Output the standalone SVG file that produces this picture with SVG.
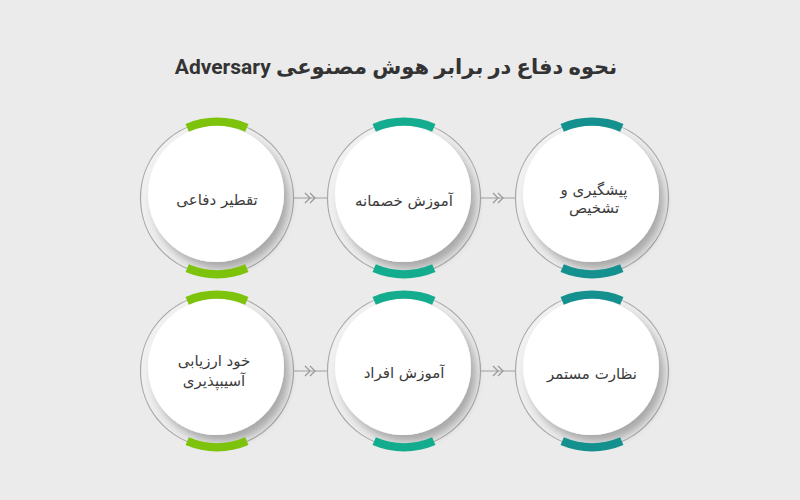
<svg xmlns="http://www.w3.org/2000/svg" width="800" height="500" viewBox="0 0 800 500">
<defs>
<filter id="sh" x="-30%" y="-30%" width="160%" height="160%">
<feGaussianBlur in="SourceAlpha" stdDeviation="4"/>
<feOffset dx="5" dy="7" result="b"/>
<feComponentTransfer><feFuncA type="linear" slope="0.28"/></feComponentTransfer>
<feMerge><feMergeNode/><feMergeNode in="SourceGraphic"/></feMerge>
</filter>
<linearGradient id="ring" x1="0" y1="0" x2="1" y2="1">
<stop offset="0" stop-color="#f3f3f3"/>
<stop offset="1" stop-color="#e6e6e6"/>
</linearGradient>
<g id="chev">
<path d="M-5,-5 L0,0 L-5,5 M0,-5 L5,0 L0,5" fill="none" stroke="#9a9a9a" stroke-width="1.3"/>
</g>
</defs>
<style>
.outer{fill:url(#ring);stroke:#a8a8a8;stroke-width:1.2}
.inner{fill:#ffffff;filter:url(#sh)}
.arc{fill:none;stroke-width:8.5}
.g{stroke:#7dc30c}
.tg{stroke:#14ac8e}
.t{stroke:#14918f}
.lbl{font-family:"DejaVu Sans","Noto Sans",sans-serif;font-size:15px;fill:#3c3c3c;text-anchor:middle;direction:rtl}
.conn{stroke:#a0a0a0;stroke-width:1.2;fill:none}
.title{font-family:Roboto,"DejaVu Sans",sans-serif;font-size:21px;font-weight:bold;fill:#333;text-anchor:middle;direction:rtl}
</style>
<rect width="800" height="500" fill="#ebebeb"/>
<text class="title" x="396" y="74" direction="rtl">نحوه دفاع در برابر هوش مصنوعی Adversary</text>

<g id="connectors">
<line class="conn" x1="294" y1="198" x2="328" y2="198"/>
<use href="#chev" x="310" y="198"/>
<line class="conn" x1="481" y1="198" x2="516" y2="198"/>
<use href="#chev" x="498" y="198"/>
<line class="conn" x1="294" y1="371" x2="328" y2="371"/>
<use href="#chev" x="310" y="371"/>
<line class="conn" x1="481" y1="371" x2="516" y2="371"/>
<use href="#chev" x="498" y="371"/>
</g>

<g id="node1" transform="translate(217,198)">
<circle class="outer" r="76.5"/>
<circle class="inner" cx="-1" cy="-4" r="68"/>
<path class="arc g" d="M-29.8,-70.2 A76.3,76.3 0 0 1 29.8,-70.2"/>
<path class="arc g" d="M-29.8,70.2 A76.3,76.3 0 0 0 29.8,70.2"/>
<text class="lbl" x="0" y="7">تقطیر دفاعی</text>
</g>
<g id="node2" transform="translate(404,198)">
<circle class="outer" r="76.5"/>
<circle class="inner" cx="-1" cy="-4" r="68"/>
<path class="arc tg" d="M-29.8,-70.2 A76.3,76.3 0 0 1 29.8,-70.2"/>
<path class="arc tg" d="M-29.8,70.2 A76.3,76.3 0 0 0 29.8,70.2"/>
<text class="lbl" x="0" y="8">آموزش خصمانه</text>
</g>
<g id="node3" transform="translate(592,198)">
<circle class="outer" r="76.5"/>
<circle class="inner" cx="-1" cy="-4" r="68"/>
<path class="arc t" d="M-29.8,-70.2 A76.3,76.3 0 0 1 29.8,-70.2"/>
<path class="arc t" d="M-29.8,70.2 A76.3,76.3 0 0 0 29.8,70.2"/>
<text class="lbl" x="2" y="-3">پیشگیری و</text>
<text class="lbl" x="2" y="15">تشخیص</text>
</g>
<g id="node4" transform="translate(217,371)">
<circle class="outer" r="76.5"/>
<circle class="inner" cx="-1" cy="-4" r="68"/>
<path class="arc g" d="M-29.8,-70.2 A76.3,76.3 0 0 1 29.8,-70.2"/>
<path class="arc g" d="M-29.8,70.2 A76.3,76.3 0 0 0 29.8,70.2"/>
<text class="lbl" x="-3" y="-5">خود ارزیابی</text>
<text class="lbl" x="-3" y="15">آسیبپذیری</text>
</g>
<g id="node5" transform="translate(404,371)">
<circle class="outer" r="76.5"/>
<circle class="inner" cx="-1" cy="-4" r="68"/>
<path class="arc tg" d="M-29.8,-70.2 A76.3,76.3 0 0 1 29.8,-70.2"/>
<path class="arc tg" d="M-29.8,70.2 A76.3,76.3 0 0 0 29.8,70.2"/>
<text class="lbl" x="0" y="7">آموزش افراد</text>
</g>
<g id="node6" transform="translate(592,371)">
<circle class="outer" r="76.5"/>
<circle class="inner" cx="-1" cy="-4" r="68"/>
<path class="arc t" d="M-29.8,-70.2 A76.3,76.3 0 0 1 29.8,-70.2"/>
<path class="arc t" d="M-29.8,70.2 A76.3,76.3 0 0 0 29.8,70.2"/>
<text class="lbl" x="0" y="8">نظارت مستمر</text>
</g>
</svg>
